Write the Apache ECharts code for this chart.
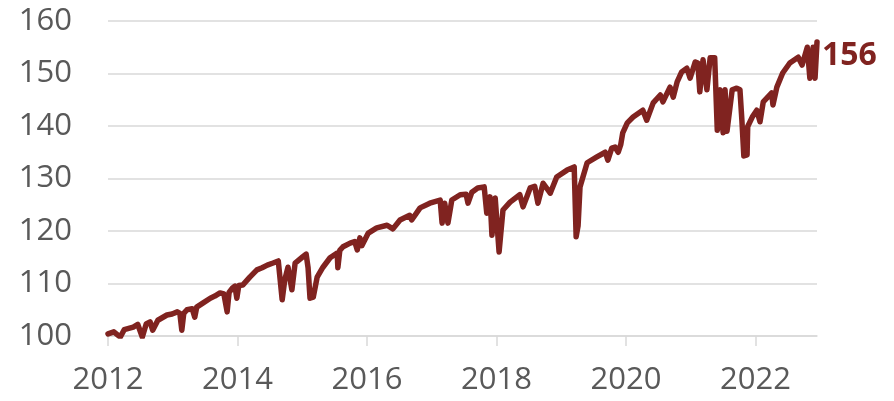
<!DOCTYPE html>
<html><head><meta charset="utf-8">
<script src="https://cdn.jsdelivr.net/npm/echarts@6/dist/echarts.min.js"></script>
<style>html,body{margin:0;padding:0;background:#fff}#c{width:894px;height:401px}</style>
</head><body><div id="c"></div>
<script>
const yearTicks = [2012, 2014, 2016, 2018, 2020, 2022];
const valueTicks = [100, 110, 120, 130, 140, 150, 160];
const times = [2012.00,2012.09,2012.19,2012.25,2012.39,2012.46,2012.53,2012.59,2012.65,2012.69,2012.77,2012.91,2012.99,2013.07,2013.11,2013.14,2013.17,2013.22,2013.30,2013.34,2013.37,2013.47,2013.58,2013.65,2013.73,2013.79,2013.84,2013.87,2013.92,2013.96,2013.99,2014.02,2014.08,2014.19,2014.30,2014.38,2014.46,2014.55,2014.63,2014.66,2014.69,2014.73,2014.78,2014.84,2014.89,2015.00,2015.06,2015.09,2015.12,2015.17,2015.23,2015.32,2015.43,2015.54,2015.55,2015.58,2015.63,2015.74,2015.81,2015.85,2015.89,2015.92,2016.02,2016.15,2016.31,2016.40,2016.51,2016.66,2016.69,2016.82,2016.97,2017.13,2017.16,2017.20,2017.25,2017.31,2017.44,2017.53,2017.56,2017.62,2017.71,2017.81,2017.85,2017.90,2017.93,2017.98,2018.04,2018.10,2018.21,2018.36,2018.41,2018.52,2018.59,2018.64,2018.72,2018.83,2018.93,2019.09,2019.20,2019.23,2019.26,2019.29,2019.40,2019.55,2019.68,2019.72,2019.78,2019.83,2019.88,2019.92,2019.95,2020.02,2020.11,2020.26,2020.32,2020.42,2020.53,2020.57,2020.68,2020.73,2020.79,2020.86,2020.94,2020.99,2021.07,2021.11,2021.14,2021.19,2021.25,2021.30,2021.37,2021.41,2021.45,2021.50,2021.53,2021.56,2021.64,2021.71,2021.76,2021.79,2021.82,2021.87,2021.88,2021.95,2022.02,2022.07,2022.12,2022.25,2022.27,2022.33,2022.42,2022.53,2022.66,2022.72,2022.80,2022.84,2022.89,2022.92,2022.95];
const values = [100.4,100.8,99.8,101.2,101.7,102.2,99.8,102.3,102.7,101.1,103.0,104.0,104.2,104.6,104.3,101.1,104.3,105.0,105.2,103.6,105.5,106.3,107.2,107.6,108.2,108.0,104.6,108.3,109.1,109.5,107.2,109.6,109.7,111.2,112.6,113.0,113.5,113.9,114.3,114.5,106.9,110.7,113.1,108.8,113.9,115.0,115.6,113.0,107.2,107.4,111.2,113.1,114.9,115.8,113.0,116.3,117.0,117.7,118.0,116.4,118.7,117.2,119.6,120.6,121.1,120.4,122.1,123.0,122.1,124.4,125.3,125.9,121.5,125.3,121.5,125.9,126.9,127.0,125.3,127.4,128.2,128.4,123.4,126.5,119.2,126.3,116.0,124.0,125.5,126.9,124.6,128.2,128.5,125.3,129.1,127.2,130.3,131.6,132.2,118.9,121.0,128.4,133.0,134.1,135.0,133.5,135.8,136.0,135.0,136.5,138.7,140.6,141.7,143.0,141.1,144.4,145.9,144.6,147.4,145.5,148.4,150.3,151.0,149.1,152.2,152.0,146.5,152.6,146.9,153.0,153.0,139.2,146.9,138.7,146.9,139.0,146.9,147.2,146.9,141.1,134.3,134.5,139.9,141.7,143.0,140.8,144.6,146.3,144.0,147.4,150.1,152.0,153.1,151.6,155.0,149.1,155.0,149.1,156.0];
const endLabelText = '156';

const chart = echarts.init(document.getElementById('c'), null, {renderer: 'canvas'});
const FONT = '"Open Sans", sans-serif';
chart.setOption({
  animation: false,
  grid: {left: 108, right: 77, top: 21, bottom: 65, containLabel: false},
  xAxis: {
    type: 'value', min: 2012, max: 2022.95, interval: 2,
    axisLine: {show: true, lineStyle: {color: '#D9D9D9', width: 1.5}},
    axisTick: {show: true, length: 10, lineStyle: {color: '#D9D9D9', width: 1.5},
      customValues: yearTicks},
    axisLabel: {color: '#595959', fontSize: 31, fontFamily: FONT, margin: 29,
      customValues: yearTicks, formatter: v => String(v)},
    splitLine: {show: false}
  },
  yAxis: {
    type: 'value', min: 100, max: 160, interval: 10,
    axisLine: {show: false}, axisTick: {show: false},
    axisLabel: {color: '#595959', fontSize: 31, fontFamily: FONT, margin: 36,
      customValues: valueTicks},
    splitLine: {show: true, lineStyle: {color: '#D9D9D9', width: 1.5}}
  },
  series: [{
    type: 'line', showSymbol: false, symbol: 'none',
    data: times.map((t, i) => [t, values[i]]),
    lineStyle: {color: '#802320', width: 5.5, join: 'round', cap: 'round'},
    itemStyle: {color: '#802320'},
    endLabel: {show: true, formatter: () => endLabelText, color: '#802320',
      fontSize: 32, fontWeight: 'bold', fontFamily: FONT, offset: [0, 14], distance: 5}
  }]
});
</script></body></html>
